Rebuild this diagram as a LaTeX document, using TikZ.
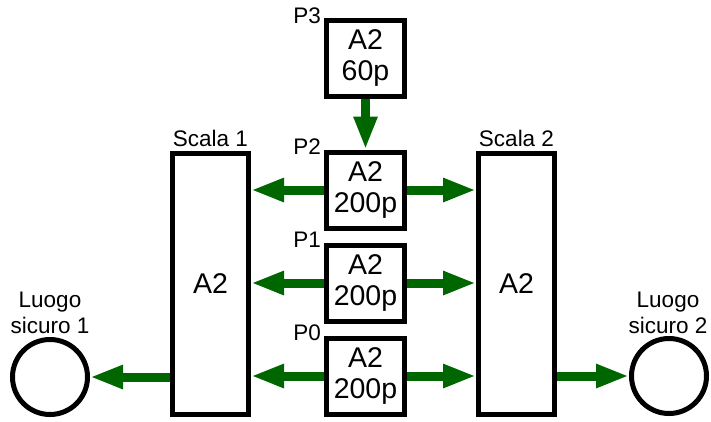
\documentclass[tikz,border=0pt]{standalone}
\usepackage{fontspec}
\setmainfont{Liberation Sans}
\usetikzlibrary{arrows.meta}
\definecolor{flow}{RGB}{0,102,0}
\tikzset{
  pbox/.style={draw, line width=5pt, minimum width=78pt, minimum height=76pt, inner sep=0pt,
    align=center, font=\fontsize{28.5}{31}\selectfont},
  sbox/.style={draw, line width=5pt, minimum width=76pt, minimum height=261pt, inner sep=0pt,
    font=\fontsize{28.5}{31}\selectfont},
  place/.style={draw, circle, line width=5pt, minimum size=75pt, inner sep=0pt},
  lab/.style={font=\fontsize{22.5}{26}\selectfont, inner sep=0pt},
  clab/.style={font=\fontsize{22.5}{26}\selectfont, align=center, inner sep=0pt},
  flowarrow/.style={draw=flow, line width=9pt, -{Triangle[length=33pt,width=22pt]}},
}
\begin{document}
\begin{tikzpicture}[x=1pt,y=-1pt]
\useasboundingbox (0,0) rectangle (711,421);
\node[pbox] (p3) at (365.5,58.5) {A2\\60p};
\node[pbox] (p2) at (365.5,190) {A2\\200p};
\node[pbox] (p1) at (365.5,283) {A2\\200p};
\node[pbox] (p0) at (365.5,376) {A2\\200p};
\node[sbox] (s1) at (210.5,284) {A2};
\node[sbox] (s2) at (516.5,284) {A2};
\node[place] (l1) at (50,377) {};
\node[place] (l2) at (669,376) {};
\node[lab, anchor=base east] (tp3) at (321,23) {P3};
\node[lab, anchor=base east] (tp2) at (321,154) {P2};
\node[lab, anchor=base east] (tp1) at (321,247) {P1};
\node[lab, anchor=base east] (tp0) at (321,340) {P0};
\node[lab, anchor=base] (ts1) at (210.5,146) {Scala 1};
\node[lab, anchor=base] (ts2) at (516.5,146) {Scala 2};
\node[clab, anchor=base] (tl1) at (50,333) {Luogo\\sicuro 1};
\node[clab, anchor=base] (tl2) at (668,333) {Luogo\\sicuro 2};
\draw[flowarrow] (p3.south) -- (p2.north);
\draw[flowarrow] (p2.west) -- (s1.east |- p2.west);
\draw[flowarrow] (p2.east) -- (s2.west |- p2.east);
\draw[flowarrow] (p1.west) -- (s1.east |- p1.west);
\draw[flowarrow] (p1.east) -- (s2.west |- p1.east);
\draw[flowarrow] (p0.west) -- (s1.east |- p0.west);
\draw[flowarrow] (p0.east) -- (s2.west |- p0.east);
\draw[flowarrow] (s1.west |- l1.east) -- (l1.east);
\draw[flowarrow] (s2.east |- l2.west) -- (l2.west);
\end{tikzpicture}
\end{document}
